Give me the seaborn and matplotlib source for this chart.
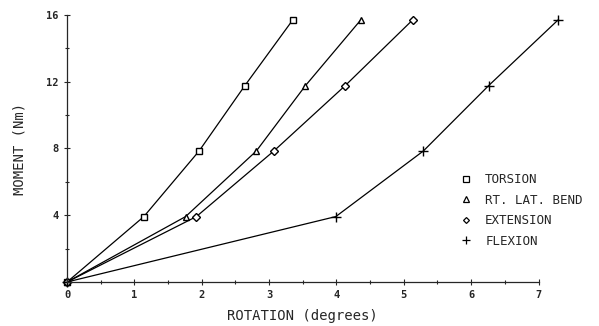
import matplotlib
matplotlib.use("Agg")
import matplotlib.pyplot as plt
import seaborn as sns
import pandas as pd
from matplotlib.lines import Line2D
from matplotlib.ticker import MultipleLocator, FixedLocator

# Moment levels (Nm) and rotation (degrees) per loading mode
moment = [0, 3.92, 7.85, 11.77, 15.7]
torsion = [0, 1.14, 1.96, 2.64, 3.35]
lat_bend = [0, 1.76, 2.81, 3.54, 4.36]
extension = [0, 1.92, 3.07, 4.13, 5.13]
flexion = [0, 3.99, 5.29, 6.26, 7.29]

modes = ["TORSION", "RT. LAT. BEND", "EXTENSION", "FLEXION"]
rotations = [torsion, lat_bend, extension, flexion]
marker_map = {"TORSION": "s", "RT. LAT. BEND": "^", "EXTENSION": "D", "FLEXION": "+"}
size_map = {"TORSION": 5, "RT. LAT. BEND": 5, "EXTENSION": 4, "FLEXION": 7}

frames = []
for name, rot in zip(modes, rotations):
    frames.append(pd.DataFrame({"Rotation": rot, "Moment": moment, "Mode": name}))
df = pd.concat(frames, ignore_index=True)

sns.set_style("ticks")
plt.rcParams['font.family'] = ['DejaVu Sans Mono']

fig = plt.figure(figsize=(5.99, 3.26), dpi=100)
ax = fig.add_axes([0.112, 0.135, 0.787, 0.819])

for name in modes:
    sub = df[df["Mode"] == name]
    sns.lineplot(data=sub, x="Rotation", y="Moment", ax=ax, color="black",
                 linewidth=0.9, marker=marker_map[name], markersize=size_map[name],
                 markerfacecolor="white", markeredgecolor="black",
                 markeredgewidth=1.0, sort=False, estimator=None, clip_on=False)

ax.set_xlim(0, 7)
ax.set_ylim(0, 16)
ax.xaxis.set_major_locator(MultipleLocator(1))
ax.xaxis.set_minor_locator(MultipleLocator(0.5))
ax.yaxis.set_major_locator(FixedLocator([4, 8, 12, 16]))
ax.yaxis.set_minor_locator(MultipleLocator(2))
ax.tick_params(which="both", direction="inout", length=5, width=0.8, labelsize=7.5)
ax.tick_params(which="minor", length=3)
for lbl in ax.get_xticklabels() + ax.get_yticklabels():
    lbl.set_fontweight("bold")
sns.despine(ax=ax)
ax.spines["left"].set_linewidth(0.9)
ax.spines["bottom"].set_linewidth(0.9)

ax.set_xlabel("ROTATION (degrees)", fontsize=10, labelpad=6)
ax.set_ylabel("MOMENT (Nm)", fontsize=10, labelpad=14)

handles = [Line2D([], [], linestyle="", marker=marker_map[m], markersize=size_map[m] - 1,
                  markerfacecolor="white", markeredgecolor="black", markeredgewidth=0.9)
           for m in modes]
ax.legend(handles, modes, loc="upper left", bbox_to_anchor=(0.81, 0.45),
          frameon=False, fontsize=9, handlelength=1.0, handletextpad=1.0,
          labelspacing=0.6)

fig.savefig("out.png", dpi=100)
